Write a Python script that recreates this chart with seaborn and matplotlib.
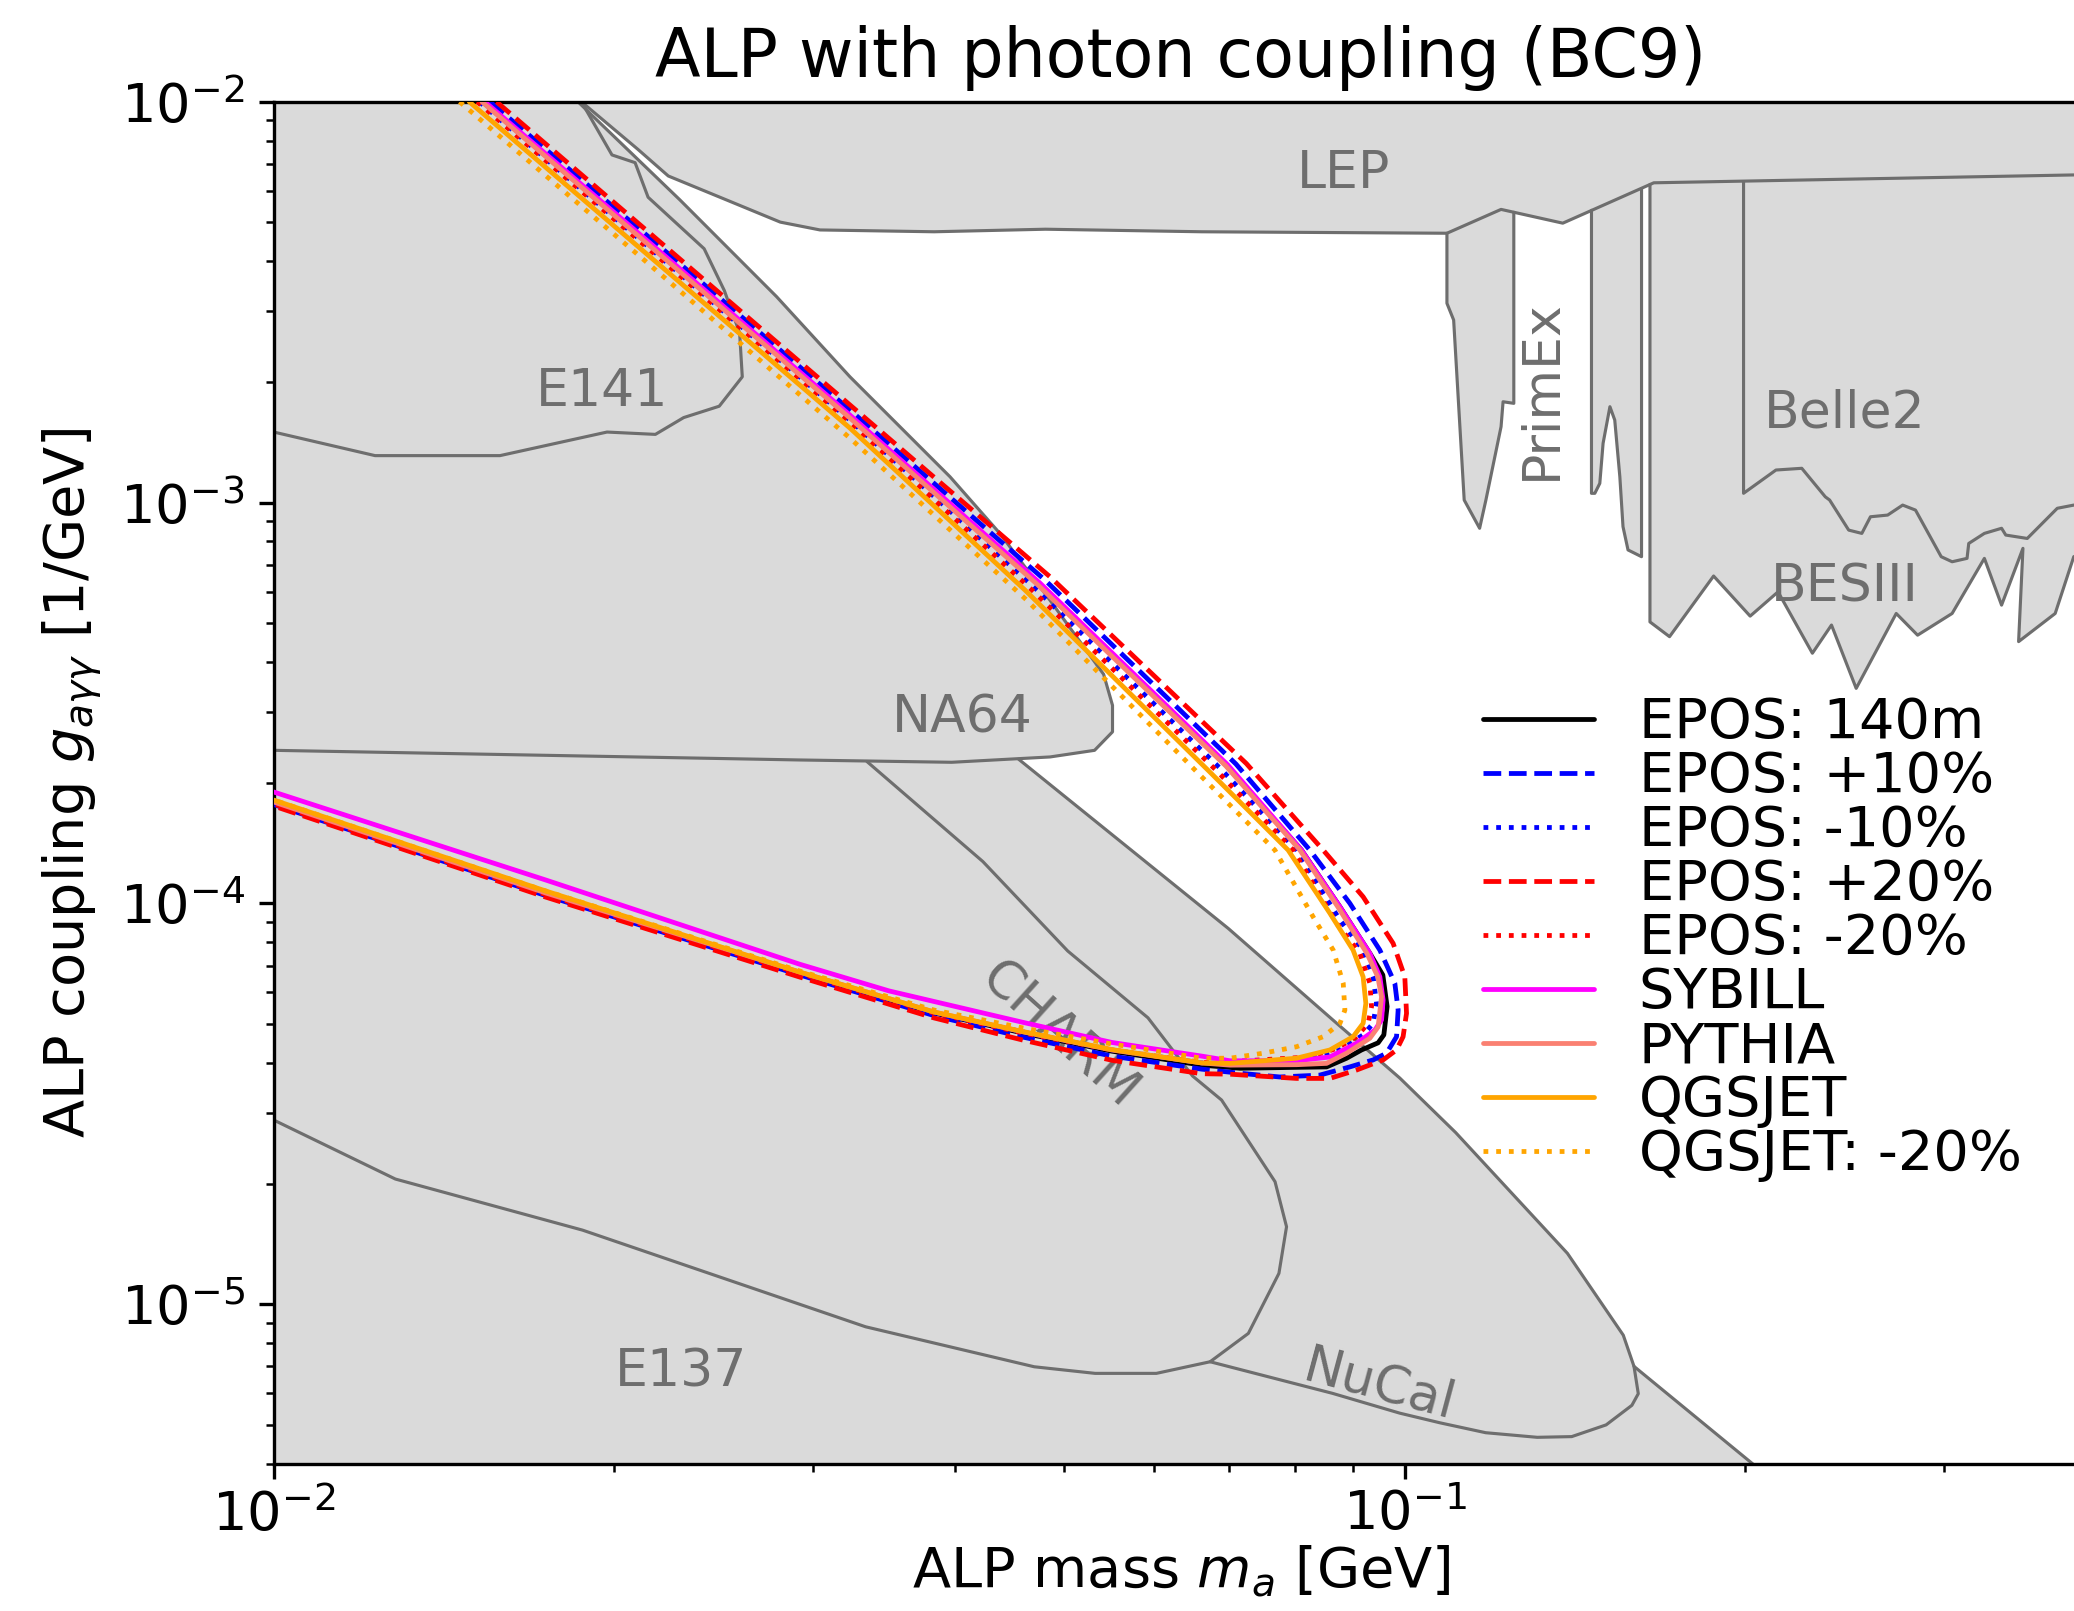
import matplotlib
matplotlib.use("Agg")
import matplotlib.pyplot as plt
import seaborn as sns

sns.set_style("ticks", rc={
    "axes.edgecolor": "black", "xtick.color": "black", "ytick.color": "black",
    "text.color": "black", "axes.labelcolor": "black",
})
plt.rcParams["font.family"] = ["DejaVu Sans"]
plt.rcParams.update({
    "xtick.major.size": 3.5, "ytick.major.size": 3.5,
    "xtick.minor.size": 2.0, "ytick.minor.size": 2.0,
    "xtick.major.width": 0.8, "ytick.major.width": 0.8,
    "xtick.minor.width": 0.6, "ytick.minor.width": 0.6,
    "axes.linewidth": 0.8,
    "mathtext.fontset": "dejavusans",
})

# ---------------- sensitivity contours: ALP mass [GeV], coupling [1/GeV] ----------------
epos_m = [0.01531, 0.02151, 0.03232, 0.04759, 0.06950, 0.08106, 0.08766, 0.09317, 0.09566, 0.09650,
          0.09586, 0.09475, 0.09160, 0.08886, 0.08531, 0.08024, 0.07151, 0.06616, 0.05509, 0.04598,
          0.03836, 0.02919, 0.01740, 0.01000]
epos_g = [1.000e-2, 4.393e-3, 1.635e-3, 6.229e-4, 2.215e-4, 1.359e-4, 9.81e-5, 7.51e-5, 6.63e-5, 5.53e-5,
          4.70e-5, 4.49e-5, 4.31e-5, 4.11e-5, 3.91e-5, 3.90e-5, 3.88e-5, 3.95e-5, 4.28e-5, 4.75e-5,
          5.33e-5, 6.70e-5, 1.055e-4, 1.780e-4]

epos_p10_m = [0.01553, 0.02151, 0.03232, 0.04808, 0.07093, 0.08245, 0.08944, 0.09508, 0.09803, 0.09869,
              0.09837, 0.09638, 0.09379, 0.08944, 0.08414, 0.07756, 0.07151, 0.06616, 0.05509, 0.04598,
              0.03836, 0.02919, 0.01740, 0.01000]
epos_p10_g = [1.000e-2, 4.573e-3, 1.702e-3, 6.410e-4, 2.228e-4, 1.359e-4, 1.001e-4, 7.65e-5, 6.32e-5, 5.42e-5,
              4.65e-5, 4.23e-5, 4.07e-5, 3.91e-5, 3.73e-5, 3.69e-5, 3.77e-5, 3.86e-5, 4.16e-5, 4.64e-5,
              5.25e-5, 6.63e-5, 1.046e-4, 1.765e-4]

epos_m10_m = [0.01520, 0.02151, 0.03232, 0.04711, 0.06893, 0.08024, 0.08766, 0.09190, 0.09379, 0.09444,
              0.09379, 0.09190, 0.08766, 0.08300, 0.07007, 0.06616, 0.05509, 0.04598, 0.03836, 0.02919,
              0.01740, 0.01000]
epos_m10_g = [1.000e-2, 4.318e-3, 1.607e-3, 6.123e-4, 2.152e-4, 1.359e-4, 9.09e-5, 7.65e-5, 6.56e-5, 5.63e-5,
              5.02e-5, 4.70e-5, 4.31e-5, 4.11e-5, 3.99e-5, 4.00e-5, 4.31e-5, 4.78e-5, 5.34e-5, 6.72e-5,
              1.055e-4, 1.780e-4]

epos_p20_m = [0.01574, 0.02151, 0.03232, 0.04857, 0.07244, 0.08471, 0.09190, 0.09769, 0.10004, 0.10039,
              0.09969, 0.09837, 0.09572, 0.09067, 0.08589, 0.08024, 0.07007, 0.06616, 0.05514, 0.04598,
              0.03836, 0.02919, 0.01740, 0.01000]
epos_p20_g = [1.000e-2, 4.698e-3, 1.753e-3, 6.533e-4, 2.235e-4, 1.359e-4, 1.039e-4, 7.95e-5, 6.56e-5, 5.32e-5,
              4.65e-5, 4.31e-5, 4.07e-5, 3.84e-5, 3.66e-5, 3.66e-5, 3.75e-5, 3.76e-5, 4.06e-5, 4.56e-5,
              5.18e-5, 6.55e-5, 1.037e-4, 1.750e-4]

epos_m20_m = [0.01513, 0.02151, 0.03232, 0.04683, 0.06838, 0.07969, 0.08707, 0.09129, 0.09317, 0.09349,
              0.09284, 0.09067, 0.08707, 0.08245, 0.07007, 0.06616, 0.05509, 0.04598, 0.03836, 0.02919,
              0.01740, 0.01000]
epos_m20_g = [1.000e-2, 4.269e-3, 1.589e-3, 6.053e-4, 2.127e-4, 1.359e-4, 8.92e-5, 7.51e-5, 6.32e-5, 5.53e-5,
              5.02e-5, 4.65e-5, 4.35e-5, 4.14e-5, 4.03e-5, 4.01e-5, 4.31e-5, 4.75e-5, 5.33e-5, 6.69e-5,
              1.052e-4, 1.770e-4]

sybill_m = [0.01537, 0.02151, 0.03232, 0.04759, 0.06978, 0.08106, 0.08766, 0.09317, 0.09508, 0.09572,
            0.09541, 0.09412, 0.09067, 0.08589, 0.08024, 0.07007, 0.06616, 0.05509, 0.04598, 0.03500,
            0.02919, 0.01740, 0.01000]
sybill_g = [1.000e-2, 4.444e-3, 1.654e-3, 6.301e-4, 2.215e-4, 1.359e-4, 9.81e-5, 7.51e-5, 6.56e-5, 5.74e-5,
            5.12e-5, 4.83e-5, 4.48e-5, 4.14e-5, 4.05e-5, 4.05e-5, 4.16e-5, 4.50e-5, 5.05e-5, 6.05e-5,
            7.05e-5, 1.144e-4, 1.897e-4]

pythia_m = [0.01528, 0.02151, 0.03232, 0.04740, 0.06950, 0.08079, 0.08730, 0.09260, 0.09469, 0.09541,
            0.09475, 0.09317, 0.08886, 0.08531, 0.08024, 0.07007, 0.06616, 0.05509, 0.04598, 0.03836,
            0.02919, 0.01740, 0.01000]
pythia_g = [1.000e-2, 4.368e-3, 1.626e-3, 6.229e-4, 2.202e-4, 1.359e-4, 9.80e-5, 7.51e-5, 6.56e-5, 5.85e-5,
            4.92e-5, 4.61e-5, 4.23e-5, 3.99e-5, 3.96e-5, 3.95e-5, 4.00e-5, 4.31e-5, 4.78e-5, 5.36e-5,
            6.74e-5, 1.062e-4, 1.791e-4]

qgsjet_m = [0.01489, 0.02151, 0.03232, 0.04616, 0.06727, 0.07888, 0.08589, 0.09004, 0.09190, 0.09241,
            0.09190, 0.09004, 0.08589, 0.08024, 0.07007, 0.06616, 0.05509, 0.04598, 0.03836, 0.02919,
            0.01740, 0.01000]
qgsjet_g = [1.000e-2, 4.107e-3, 1.535e-3, 6.053e-4, 2.127e-4, 1.359e-4, 9.45e-5, 7.65e-5, 6.56e-5, 5.63e-5,
            5.02e-5, 4.65e-5, 4.31e-5, 4.11e-5, 3.99e-5, 4.00e-5, 4.32e-5, 4.79e-5, 5.36e-5, 6.74e-5,
            1.074e-4, 1.811e-4]

qgsjet_m20_m = [0.01460, 0.02151, 0.03232, 0.04632, 0.06592, 0.07678, 0.08300, 0.08647, 0.08825, 0.08855,
                0.08766, 0.08471, 0.08024, 0.07497, 0.07007, 0.06616, 0.05509, 0.04598, 0.03836, 0.02919,
                0.01740, 0.01000]
qgsjet_m20_g = [1.000e-2, 3.916e-3, 1.449e-3, 5.714e-4, 2.091e-4, 1.359e-4, 9.26e-5, 7.65e-5, 6.32e-5, 5.42e-5,
                5.02e-5, 4.65e-5, 4.39e-5, 4.23e-5, 4.11e-5, 4.11e-5, 4.46e-5, 4.89e-5, 5.42e-5, 6.78e-5,
                1.074e-4, 1.811e-4]

curve_labels = ["EPOS: 140m", "EPOS: +10%", "EPOS: -10%", "EPOS: +20%", "EPOS: -20%",
                "SYBILL", "PYTHIA", "QGSJET", "QGSJET: -20%"]
curve_colors = ["black", "blue", "blue", "red", "red", "magenta", "salmon", "orange", "orange"]
curve_styles = ["-", "--", ":", "--", ":", "-", "-", "-", ":"]

# ---------------- excluded regions (outlines) ----------------
lep_m = [0.01871, 0.02099, 0.02233, 0.02503, 0.02805, 0.03041, 0.03836, 0.04813, 0.06617, 0.1090,
         0.1217, 0.1380, 0.1661, 0.3906, 1.0]
lep_g = [0.0100, 0.00761, 0.00653, 0.00572, 0.00501, 0.00479, 0.00474, 0.00481, 0.00474, 0.00470,
         0.00539, 0.00498, 0.00628, 0.00657, 0.0068]

e141_m = [0.01871, 0.01991, 0.02087, 0.02143, 0.02402, 0.02503, 0.02582, 0.02596, 0.02477, 0.02304,
          0.02175, 0.01971, 0.01585, 0.01229, 0.0100]
e141_g = [0.0100, 0.00737, 0.00705, 0.00578, 0.00430, 0.00338, 0.00265, 0.00206, 0.00174, 0.00163,
          0.00148, 0.00150, 0.00131, 0.00131, 0.00150]

na64_m = [0.01858, 0.02287, 0.02784, 0.03232, 0.03963, 0.04386, 0.04857, 0.05418, 0.05517, 0.05517,
          0.05319, 0.04858, 0.03977, 0.02920, 0.0100]
na64_g = [0.0100, 0.005688, 0.003264, 0.002061, 0.001160, 0.000838, 0.000571, 0.000373, 0.000312, 0.000268,
          0.000241, 0.000232, 0.000225, 0.000228, 0.000241]

e137_m = [0.0100, 0.01281, 0.01875, 0.03337, 0.04704, 0.05325, 0.06032, 0.06730, 0.07275, 0.07742,
          0.07863, 0.07681, 0.06889, 0.06493, 0.05930, 0.05036, 0.04237, 0.03346]
e137_g = [2.881e-5, 2.053e-5, 1.531e-5, 8.786e-6, 6.983e-6, 6.723e-6, 6.723e-6, 7.187e-6, 8.459e-6, 1.194e-5,
          1.561e-5, 2.022e-5, 3.232e-5, 3.712e-5, 5.184e-5, 7.610e-5, 1.272e-4, 2.26e-4]

nucal_m = [0.04557, 0.06985, 0.08689, 0.09903, 0.11095, 0.1393, 0.15609, 0.15953, 0.16093, 0.15885,
           0.15073, 0.14053, 0.13100, 0.11795, 0.10752, 0.09903, 0.08635, 0.06730]
nucal_g = [2.29e-4, 8.657e-5, 5.051e-5, 3.667e-5, 2.682e-5, 1.340e-5, 8.372e-6, 6.999e-6, 5.983e-6, 5.596e-6,
           5.001e-6, 4.675e-6, 4.656e-6, 4.781e-6, 5.059e-6, 5.349e-6, 5.994e-6, 7.187e-6]

charm_m = [0.15953, 0.2042]
charm_g = [6.999e-6, 3.95e-6]

primex_a_m = [0.1090, 0.1090, 0.1105, 0.1129, 0.1165, 0.1180, 0.1217, 0.1222, 0.1249, 0.1249]
primex_a_g = [0.00470, 0.003143, 0.002855, 0.001015, 0.000863, 0.001015, 0.001547, 0.001785, 0.001769, 0.00530]

primex_b_m = [0.1463, 0.1463, 0.1473, 0.1488, 0.1498, 0.1519, 0.1534, 0.1550, 0.1560, 0.1576, 0.1620, 0.1620]
primex_b_g = [0.00536, 0.001055, 0.001055, 0.001117, 0.001406, 0.001735, 0.001607, 0.001160, 0.000871,
              0.000762, 0.000733, 0.00606]

besiii_m = [0.1648, 0.1648, 0.1715, 0.1876, 0.2021, 0.2139, 0.2294, 0.2385, 0.2508, 0.2721, 0.2842,
            0.3049, 0.3256, 0.3372, 0.3522, 0.3491, 0.3761, 0.3906, 0.42]
besiii_g = [0.00622, 0.000504, 0.000463, 0.000656, 0.000521, 0.000599, 0.000421, 0.000495, 0.000344,
            0.000529, 0.000467, 0.000529, 0.000726, 0.000555, 0.000769, 0.000450, 0.000529, 0.000733, 0.00080]

belle2_m = [0.1994, 0.1994, 0.2130, 0.2245, 0.2355, 0.2376, 0.2470, 0.2537, 0.2582, 0.2674, 0.2757,
            0.2830, 0.2982, 0.3049, 0.3143, 0.3154, 0.3256, 0.3372, 0.3401, 0.3553, 0.3777, 0.3906, 0.42]
belle2_g = [0.00632, 0.001055, 0.001206, 0.001218, 0.001034, 0.001015, 0.000854, 0.000838, 0.000922,
            0.000931, 0.000986, 0.000958, 0.000733, 0.000712, 0.000726, 0.000791, 0.000838, 0.000863,
            0.000830, 0.000814, 0.000968, 0.000986, 0.00095]

region_labels = ["LEP", "E141", "NA64", "CHARM", "NuCal", "E137", "PrimEx", "Belle2", "BESIII"]
region_label_m = [0.0884, 0.0195, 0.0406, 0.0494, 0.0950, 0.0229, 0.1323, 0.245, 0.245]
region_label_g = [6.60e-3, 1.89e-3, 2.90e-4, 4.68e-5, 6.25e-6, 6.74e-6, 1.91e-3, 1.67e-3, 6.14e-4]
region_label_rot = [0, 0, 0, -42, -15, 0, 90, 0, 0]

# ---------------- figure ----------------
fig = plt.figure(figsize=(2074 / 300, 1611 / 300), dpi=300)
ax = fig.add_axes([0.1320, 0.0914, 0.8747, 0.8454])
ax.set_xscale("log")
ax.set_yscale("log")

FILL = "#dadada"
EDGE = "#6e6e6e"
G_TOP = 0.0101

main_m = [0.01] + na64_m[:12] + nucal_m[:8] + charm_m[1:] + [0.01]
main_g = [G_TOP] + na64_g[:12] + nucal_g[:8] + charm_g[1:] + [charm_g[-1]]
ax.fill(main_m, main_g, color=FILL, lw=0, zorder=1)
ax.fill(lep_m + [lep_m[-1], lep_m[0]], lep_g + [G_TOP, G_TOP], color=FILL, lw=0, zorder=1)
for rm, rg in [(primex_a_m, primex_a_g), (primex_b_m, primex_b_g), (besiii_m, besiii_g)]:
    ax.fill(rm + [rm[-1], rm[0]], rg + [0.0068, 0.0068], color=FILL, lw=0, zorder=1)

for rm, rg in [(lep_m, lep_g), (e141_m, e141_g), (na64_m, na64_g), (e137_m, e137_g),
               (nucal_m, nucal_g), (charm_m, charm_g), (primex_a_m, primex_a_g),
               (primex_b_m, primex_b_g), (besiii_m, besiii_g), (belle2_m, belle2_g)]:
    ax.plot(rm, rg, color=EDGE, lw=0.75, zorder=2)

for txt, xm, yg, rot in zip(region_labels, region_label_m, region_label_g, region_label_rot):
    ax.text(xm, yg, txt, color=EDGE, fontsize=12.5, ha="center", va="center",
            rotation=rot, rotation_mode="anchor", zorder=3)

curves = [(epos_m, epos_g), (epos_p10_m, epos_p10_g), (epos_m10_m, epos_m10_g),
          (epos_p20_m, epos_p20_g), (epos_m20_m, epos_m20_g), (sybill_m, sybill_g),
          (pythia_m, pythia_g), (qgsjet_m, qgsjet_g), (qgsjet_m20_m, qgsjet_m20_g)]
for (cm, cg), lab, col, ls in zip(curves, curve_labels, curve_colors, curve_styles):
    sns.lineplot(x=cm, y=cg, sort=False, estimator=None, color=col, linestyle=ls,
                 lw=1.15, label=lab, ax=ax, zorder=4)

ax.set_xlim(0.01, 0.402)
ax.set_ylim(4e-6, 1e-2)
ax.tick_params(labelsize=13)
ax.tick_params(axis="x", which="both", pad=2.5)
ax.set_xlabel(r"ALP mass $m_a$ [GeV]", fontsize=13.4, labelpad=0.5)
ax.set_ylabel(r"ALP coupling $g_{a\gamma\gamma}$ [1/GeV]", fontsize=13.4)
ax.set_title("ALP with photon coupling (BC9)", fontsize=16)

ax.legend(loc="upper left", bbox_to_anchor=(0.654, 0.580), borderaxespad=0,
          frameon=False, fontsize=13.4, labelspacing=0.0, handlelength=2.0)

fig.savefig("out.png", dpi=300)
